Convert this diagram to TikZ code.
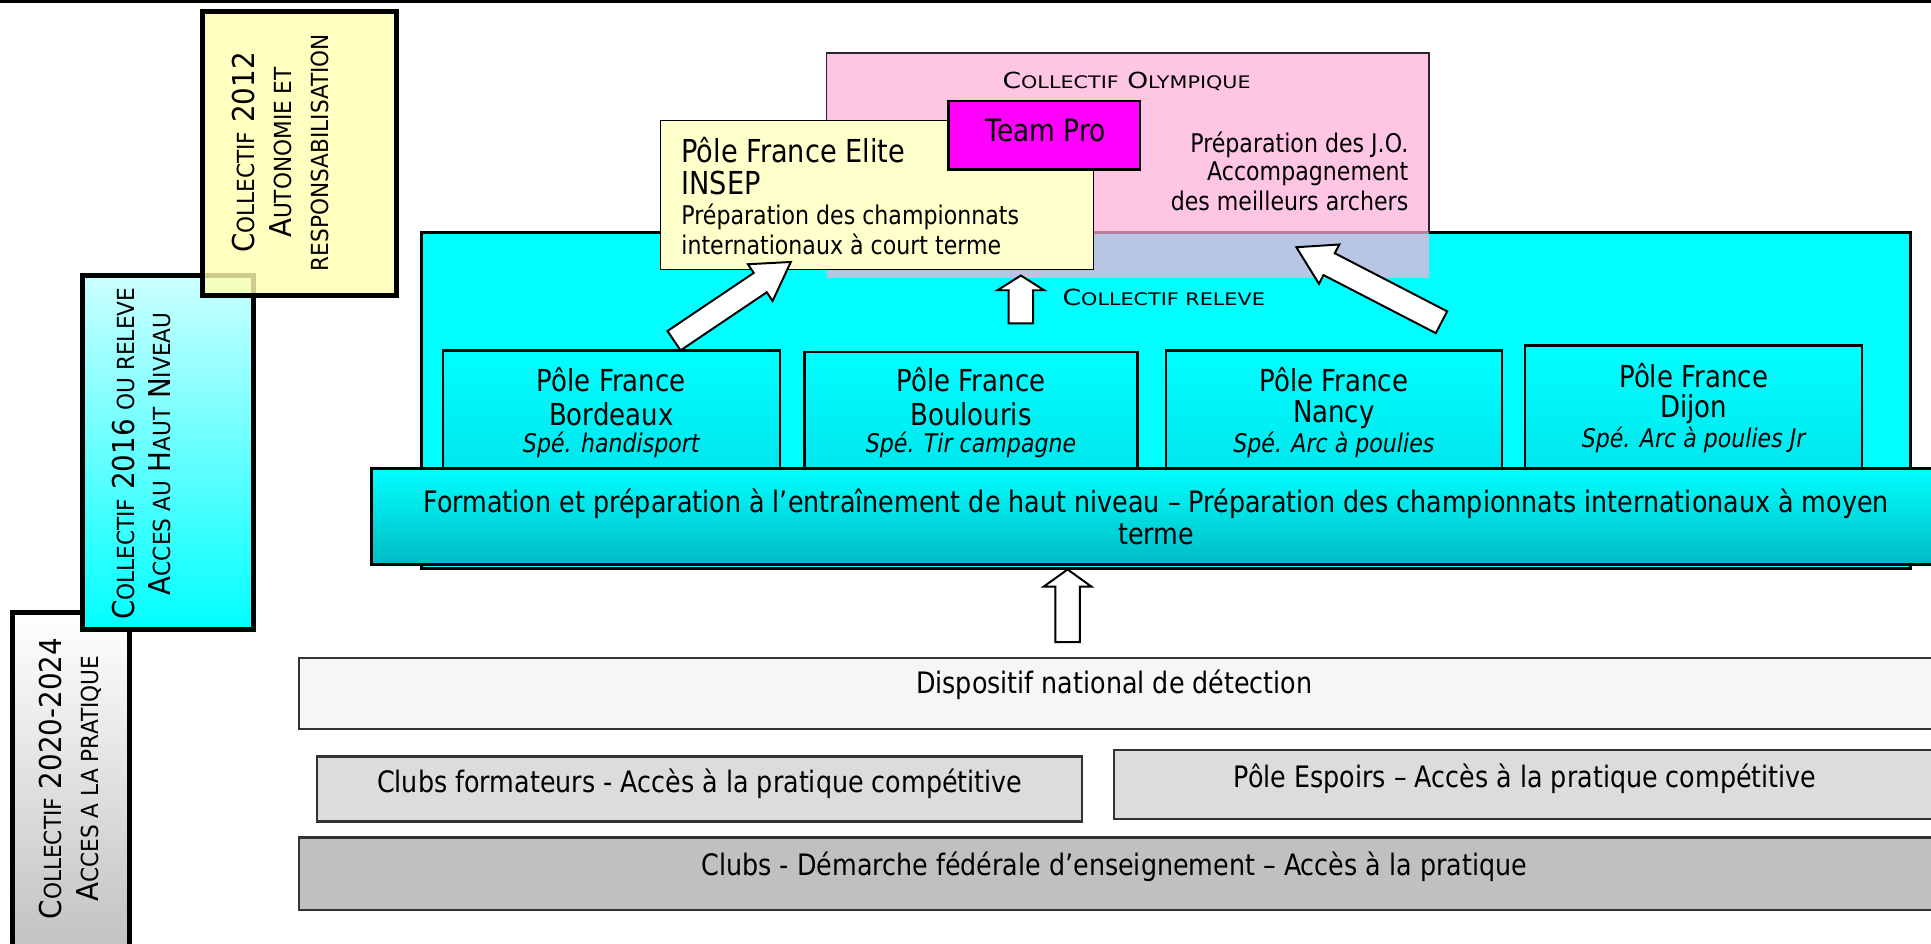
\documentclass[tikz,border=0pt]{standalone}
\usepackage{fontspec}
\setmainfont{DejaVu Sans}[FakeStretch=0.86]
\newfontfamily\rotfont{DejaVu Sans}[FakeStretch=0.92]
\newfontfamily\widefont{DejaVu Sans}[FakeStretch=1.2]
\usetikzlibrary{fit,calc}
\makeatletter
\newcommand\sm[1]{{\fontsize{\fpeval{0.78*\f@size}}{0}\selectfont #1}}
\makeatother
\newcommand\fs[1]{\fontsize{#1}{#1}\selectfont}
\definecolor{cyanA}{HTML}{00FFFF}
\definecolor{tealB}{HTML}{00BCC4}
\definecolor{poleB}{HTML}{00E6EC}
\definecolor{lcyan}{HTML}{CCFFFF}
\definecolor{yel12}{HTML}{FFFFB0}
\definecolor{insepC}{HTML}{FFFFCC}
\definecolor{pinkO}{HTML}{FFB0D9}
\definecolor{magC}{HTML}{FF00FF}
\definecolor{gA}{HTML}{F6F6F6}
\definecolor{gB}{HTML}{DCDCDC}
\definecolor{gC}{HTML}{C0C0C0}
\definecolor{gD}{HTML}{BEBEBE}
\definecolor{bd}{HTML}{333333}
\newcommand\blockarrow[5]{%
  \coordinate (bah) at ($(#2)!#5!(#1)$);
  \draw[barrow] ($(#1)!#3!90:(#2)$) -- ($(bah)!#3!90:(#2)$) -- ($(bah)!#4!90:(#2)$) -- (#2)
    -- ($(bah)!#4!-90:(#2)$) -- ($(bah)!#3!-90:(#2)$) -- ($(#1)!#3!-90:(#2)$) -- cycle;}
\begin{document}
\begin{tikzpicture}[x=1pt,y=-1pt,
  every node/.style={inner sep=0pt, outer sep=0pt},
  lbox/.style={draw=black, line width=4pt},
  pole/.style={draw=black, line width=2pt, top color=cyanA, bottom color=poleB},
  gbox/.style={draw=bd, line width=1.8pt},
  barrow/.style={draw=black, line width=1.6pt, fill=white, line join=miter},
  rot/.style={rotate=90, align=center, font=\rotfont\fontsize{24.5}{30}\selectfont},
  body/.style={font=\fs{24}},
  ptitle/.style={font=\fs{24.6}},
  pspe/.style={font=\fs{20.9}\itshape},
  sctxt/.style={font=\widefont\fs{18}},
  jo/.style={font=\fs{20.9}, anchor=east},
]
\useasboundingbox (0,0) rectangle (1570,767);
\clip (0,0) rectangle (1570,767);
\coordinate (tl) at (0,1.2); \coordinate (tr) at (1570,1.2);
\draw[line width=2.4pt] (tl) -- (tr);

% left collectif boxes
\node[lbox, top color=white, bottom color=gD, fit={(10,498)(105,790)}] (c2020) {};
\node[lbox, top color=lcyan, bottom color=cyanA, fit={(67,224)(206,512)}] (c2016) {};
\node[lbox, fill=yel12, fill opacity=0.8, fit={(165,9)(322,240)}] (c2012) {};
\node[rot] (t2012) at (228,124) {C\sm{OLLECTIF} 2012\\A\sm{UTONOMIE ET}\\\sm{RESPONSABILISATION}};
\node[rot] (t2016) at (115,369) {C\sm{OLLECTIF} 2016 \sm{OU RELEVE}\\A\sm{CCES AU} H\sm{AUT} N\sm{IVEAU}};
\node[rot] (t2020) at (57,633) {C\sm{OLLECTIF} 2020-2024\\A\sm{CCES A LA PRATIQUE}};

% main structure
\node[draw=black, line width=2.5pt, fill=cyanA, fit={(343,189)(1553,462)}] (big) {};
\node[fill=pinkO, fill opacity=0.72, fit={(672,43)(1162,226)}] (olymp) {};
\draw[line width=1.2pt, draw=black!85] (olymp.west |- big.north) -- (olymp.north west) -- (olymp.north east) -- (olymp.east |- big.north);

\node[pole, fit={(360,285)(634,384)}] (bordeaux) {};
\node[pole, fit={(654,286)(925,384)}] (boulouris) {};
\node[pole, fit={(948,285)(1221,384)}] (nancy) {};
\node[pole, fit={(1240,281)(1514,384)}] (dijon) {};
\node[draw=black, line width=2.5pt, top color=cyanA, bottom color=tealB, fit={(302,381)(1600,459)}] (form) {};

\node[draw=black, line width=1.2pt, fill=insepC, fit={(537,98)(889,219)}] (insep) {};
\node[draw=black, line width=2pt, fill=magC, fit={(771,82)(927,138)}] (teampro) {};

% arrows
\coordinate (aAt) at (548,277); \coordinate (aAh) at (643,213);
\blockarrow{aAt}{aAh}{9.5pt}{18pt}{30pt}
\coordinate (aBt) at (830,263); \coordinate (aBh) at (830,224);
\blockarrow{aBt}{aBh}{10pt}{19pt}{12pt}
\coordinate (aCt) at (1172,262); \coordinate (aCh) at (1054,201);
\blockarrow{aCt}{aCh}{10pt}{18pt}{30pt}

% lower boxes
\node[gbox, fill=gA, fit={(243,535)(1600,593)}] (detect) {};
\coordinate (aDt) at (868,522); \coordinate (aDh) at (868,463);
\blockarrow{aDt}{aDh}{10pt}{19.5pt}{14pt}
\node[gbox, fill=gB, fit={(258,615)(880,668)}] (clubsf) {};
\node[gbox, fill=gB, fit={(906,610)(1600,666)}] (espoirs) {};
\node[gbox, fill=gC, fit={(243,681)(1600,740)}] (clubs) {};

% texts
\node[sctxt] (tolymp) at (916,66) {C\sm{OLLECTIF} O\sm{LYMPIQUE}};
\node[font=\fs{25}] (tteam) at (850,106) {Team Pro};
\node[jo] (tjo1) at (1145,118) {Préparation des J.O.};
\node[jo] (tjo2) at (1145,141) {Accompagnement};
\node[jo] (tjo3) at (1145,163) {des meilleurs archers};

\node[font=\fs{25.7}, anchor=west] (ti1) at (554,122) {Pôle France Elite};
\node[font=\fs{25.7}, anchor=west] (ti2) at (554,149) {INSEP};
\node[font=\fs{20.9}, anchor=west] (ti3) at (554,176) {Préparation des championnats};
\node[font=\fs{20.9}, anchor=west] (ti4) at (554,199) {internationaux à court terme};

\node[sctxt, anchor=west] (treleve) at (864,242) {C\sm{OLLECTIF RELEVE}};

\node[ptitle] (pb1) at (497,309) {Pôle France};
\node[ptitle] (pb2) at (497,337) {Bordeaux};
\node[pspe] (pb3) at (497,362) {Spé. handisport};
\node[ptitle] (pu1) at (789.5,309) {Pôle France};
\node[ptitle] (pu2) at (789.5,337) {Boulouris};
\node[pspe] (pu3) at (789.5,362) {Spé. Tir campagne};
\node[ptitle] (pn1) at (1084.5,309) {Pôle France};
\node[ptitle] (pn2) at (1084.5,337) {Nancy};
\node[pspe] (pn3) at (1084.5,362) {Spé. Arc à poulies};
\node[ptitle] (pd1) at (1377,305) {Pôle France};
\node[ptitle] (pd2) at (1377,333) {Dijon};
\node[pspe] (pd3) at (1377,358) {Spé. Arc à poulies Jr};

\node[align=center, font=\fontsize{24}{26}\selectfont] (tform) at (940,420) {Formation et préparation à l’entraînement de haut niveau – Préparation des championnats internationaux à moyen\\terme};

\node[body] (tdetect) at (906,557) {Dispositif national de détection};
\node[body] (tclubsf) at (569,637) {Clubs formateurs - Accès à la pratique compétitive};
\node[body] (tespoirs) at (1240,633) {Pôle Espoirs – Accès à la pratique compétitive};
\node[body] (tclubs) at (906,705) {Clubs - Démarche fédérale d’enseignement – Accès à la pratique};
\end{tikzpicture}
\end{document}
